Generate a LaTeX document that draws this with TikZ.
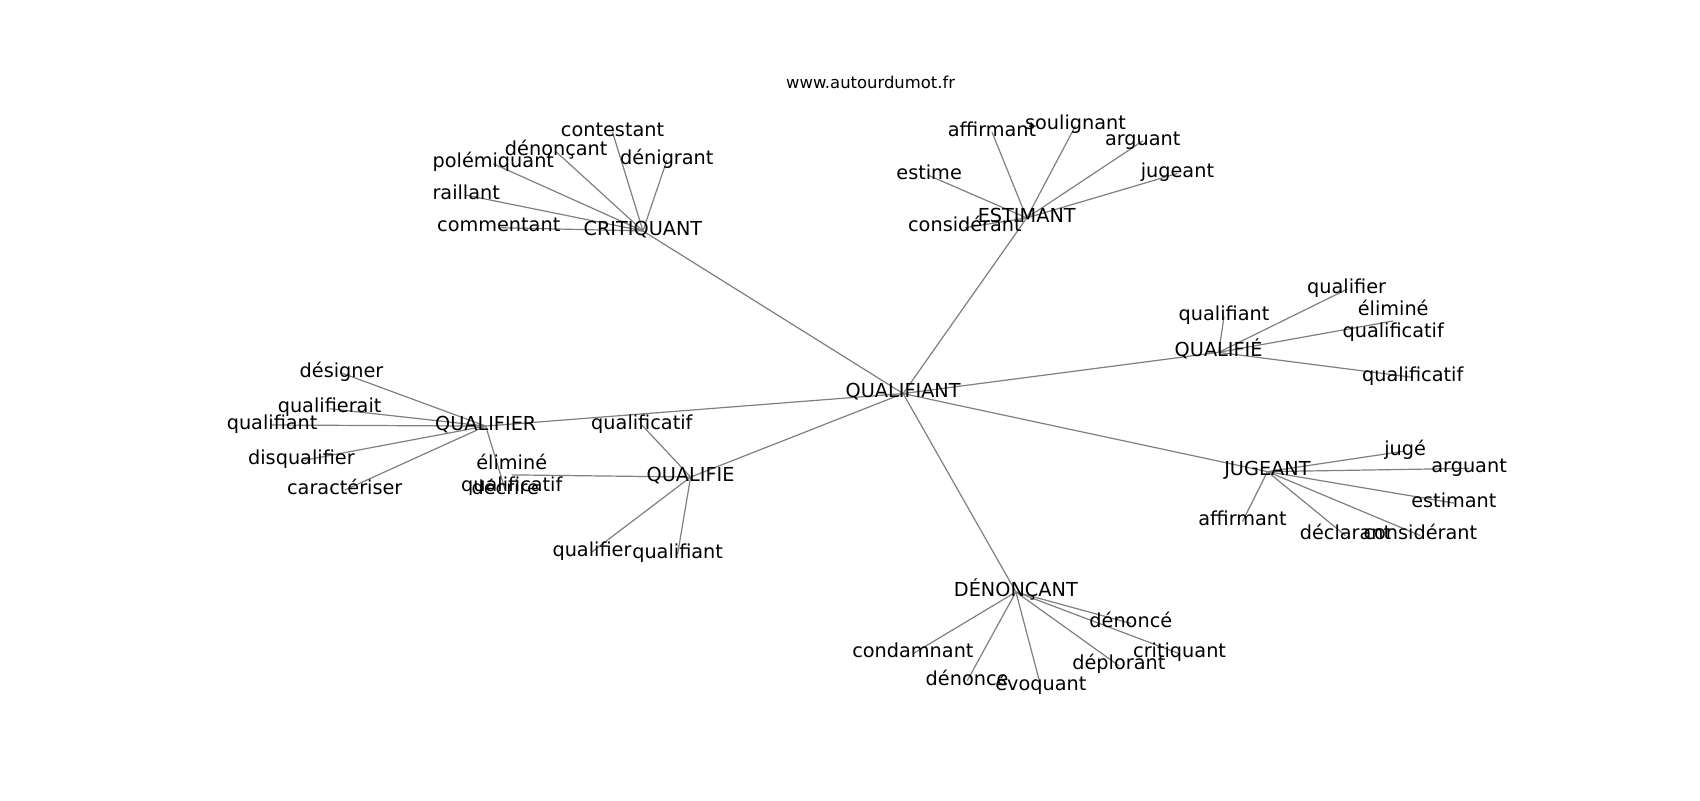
\documentclass[tikz,border=0pt]{standalone}
\usepackage{fontspec}
\setmainfont{DejaVu Sans}
\begin{document}
\begin{tikzpicture}[x=0.72pt,y=-0.72pt,
  lbl/.style={inner sep=0pt,text height=0.76em,text depth=0.21em,font=\fontsize{12.8}{14.6}\selectfont,anchor=center},
  lbl2/.style={inner sep=0pt,align=center,font=\fontsize{12.8}{14.6}\selectfont,anchor=center},
  ttl/.style={inner sep=0pt,font=\fontsize{10.9}{12}\selectfont},
  edge/.style={draw=gray,line width=0.8pt}]
\fill[white] (0,0) rectangle (1568,738);
\useasboundingbox (0,0) rectangle (1568,738);
\node[ttl] (title) at (803,76) {www.autourdumot.fr};
% coordinates of nodes
\coordinate (cQ) at (833,363);
\coordinate (cCR) at (593,213);
\coordinate (cES) at (947,201);
\coordinate (cQE) at (1124,325);
\coordinate (cJU) at (1169,435);
\coordinate (cDE) at (937,546);
\coordinate (cQF) at (637,440);
\coordinate (cQR) at (448,393);
% critiquant leaves
\coordinate (c1) at (565,122);
\coordinate (c2) at (513,140);
\coordinate (c3) at (455,151);
\coordinate (c4) at (430,180);
\coordinate (c5) at (460,210);
\coordinate (c6) at (615,148);
% estimant leaves
\coordinate (e1) at (915,122);
\coordinate (e2) at (992,116);
\coordinate (e3) at (1054,130);
\coordinate (e4) at (1086,160);
\coordinate (e5) at (857,162);
\coordinate (e6) at (890,210);
% qualifié leaves
\coordinate (q1) at (1129,292);
\coordinate (q2) at (1242,267);
\coordinate (q3) at (1285,296);
\coordinate (q4) at (1303,348);
% jugeant leaves
\coordinate (j1) at (1296,416);
\coordinate (j2) at (1355,432);
\coordinate (j3) at (1341,464);
\coordinate (j4) at (1310,494);
\coordinate (j5) at (1241,494);
\coordinate (j6) at (1146,481);
% dénonçant leaves
\coordinate (d1) at (1043,575);
\coordinate (d2) at (1088,603);
\coordinate (d3) at (1032,614);
\coordinate (d4) at (960,633);
\coordinate (d5) at (892,628);
\coordinate (d6) at (842,603);
% qualifie leaves
\coordinate (f1) at (592,392);
\coordinate (f2) at (472,438);
\coordinate (f3) at (546,509);
\coordinate (f4) at (625,511);
% qualifier leaves
\coordinate (r1) at (315,344);
\coordinate (r2) at (304,377);
\coordinate (r3) at (251,392);
\coordinate (r4) at (278,425);
\coordinate (r5) at (318,452);
\coordinate (r6) at (466,452);
% edges
\foreach \a/\b in {cQ/cCR,cQ/cES,cQ/cQE,cQ/cJU,cQ/cDE,cQ/cQF,cQ/cQR,
  cCR/c1,cCR/c2,cCR/c3,cCR/c4,cCR/c5,cCR/c6,
  cES/e1,cES/e2,cES/e3,cES/e4,cES/e5,cES/e6,
  cQE/q1,cQE/q2,cQE/q3,cQE/q4,
  cJU/j1,cJU/j2,cJU/j3,cJU/j4,cJU/j5,cJU/j6,
  cDE/d1,cDE/d2,cDE/d3,cDE/d4,cDE/d5,cDE/d6,
  cQF/f1,cQF/f2,cQF/f3,cQF/f4,
  cQR/r1,cQR/r2,cQR/r3,cQR/r4,cQR/r5,cQR/r6}
  \draw[edge] (\a) -- (\b);
% labels
\node[lbl] (nQ) at (cQ) {QUALIFIANT};
\node[lbl] (nCR) at (cCR) {CRITIQUANT};
\node[lbl] (nES) at (cES) {ESTIMANT};
\node[lbl] (nQE) at (cQE) {QUALIFIÉ};
\node[lbl] (nJU) at (cJU) {JUGEANT};
\node[lbl] (nDE) at (cDE) {DÉNONÇANT};
\node[lbl] (nQF) at (cQF) {QUALIFIE};
\node[lbl] (nQR) at (cQR) {QUALIFIER};
\node[lbl] (n-c1) at (c1) {contestant};
\node[lbl] (n-c2) at (c2) {dénonçant};
\node[lbl] (n-c3) at (c3) {polémiquant};
\node[lbl] (n-c4) at (c4) {raillant};
\node[lbl] (n-c5) at (c5) {commentant};
\node[lbl] (n-c6) at (c6) {dénigrant};
\node[lbl] (n-e1) at (e1) {affirmant};
\node[lbl] (n-e2) at (e2) {soulignant};
\node[lbl] (n-e3) at (e3) {arguant};
\node[lbl] (n-e4) at (e4) {jugeant};
\node[lbl] (n-e5) at (e5) {estime};
\node[lbl] (n-e6) at (e6) {considérant};
\node[lbl] (n-q1) at (q1) {qualifiant};
\node[lbl] (n-q2) at (q2) {qualifier};
\node[lbl2] (n-q3) at (q3) {éliminé\\qualificatif};
\node[lbl] (n-q4) at (q4) {qualificatif};
\node[lbl] (n-j1) at (j1) {jugé};
\node[lbl] (n-j2) at (j2) {arguant};
\node[lbl] (n-j3) at (j3) {estimant};
\node[lbl] (n-j4) at (j4) {considérant};
\node[lbl] (n-j5) at (j5) {déclarant};
\node[lbl] (n-j6) at (j6) {affirmant};
\node[lbl] (n-d1) at (d1) {dénoncé};
\node[lbl] (n-d2) at (d2) {critiquant};
\node[lbl] (n-d3) at (d3) {déplorant};
\node[lbl] (n-d4) at (d4) {évoquant};
\node[lbl] (n-d5) at (d5) {dénonce};
\node[lbl] (n-d6) at (d6) {condamnant};
\node[lbl] (n-f1) at (f1) {qualificatif};
\node[lbl2] (n-f2) at (f2) {éliminé\\qualificatif};
\node[lbl] (n-f3) at (f3) {qualifier};
\node[lbl] (n-f4) at (f4) {qualifiant};
\node[lbl] (n-r1) at (r1) {désigner};
\node[lbl] (n-r2) at (r2) {qualifierait};
\node[lbl] (n-r3) at (r3) {qualifiant};
\node[lbl] (n-r4) at (r4) {disqualifier};
\node[lbl] (n-r5) at (r5) {caractériser};
\node[lbl] (n-r6) at (r6) {décrire};
\end{tikzpicture}
\end{document}
